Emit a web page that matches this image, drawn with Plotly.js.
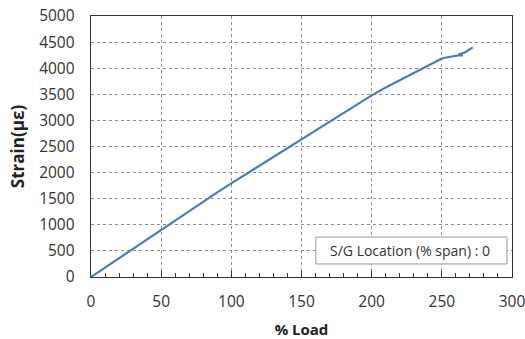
<!DOCTYPE html>
<html>
<head>
<meta charset="utf-8">
<script src="https://cdn.plot.ly/plotly-3.0.1.min.js"></script>
<style>html,body{margin:0;padding:0;background:#fff;}#chart{width:525px;height:339px;}</style>
</head>
<body>
<div id="chart"></div>
<script>
var loadPct = [0,10,20,30,40,50,60,70,80,90,100,110,120,130,140,150,160,170,180,190,200,210,220,230,235,240,245,248,250,253,256,260,263,265,262,264,266,268,270,272];
var strain = [0,180,360,545,730,915,1095,1270,1445,1620,1795,1965,2135,2305,2475,2645,2815,2985,3155,3320,3480,3630,3770,3905,3965,4035,4115,4160,4185,4205,4222,4240,4250,4238,4265,4280,4295,4330,4365,4400];
var xTicks = [0,50,100,150,200,250,300];
var yTicks = [0,500,1000,1500,2000,2500,3000,3500,4000,4500,5000];
var legendText = 'S/G Location (% span) : 0';

var font = 'Open Sans, Liberation Sans, sans-serif';
Plotly.newPlot('chart', [{
  x: loadPct, y: strain, mode: 'lines', type: 'scatter',
  line: {color: '#4a7ebb', width: 2.2}
}], {
  width: 525, height: 339,
  margin: {l: 91, r: 13, t: 16, b: 62},
  paper_bgcolor: '#fff', plot_bgcolor: '#fff',
  showlegend: false,
  xaxis: {
    range: [0, 300], tickvals: xTicks, ticktext: xTicks.map(String),
    showgrid: true, gridcolor: '#8c8c8c', griddash: '3px,3px', gridwidth: 1,
    showline: true, linecolor: '#333', linewidth: 1.3, mirror: true,
    ticks: 'inside', ticklen: 6, tickcolor: '#333',
    minor: {dtick: 10, ticks: 'inside', ticklen: 4, tickcolor: '#333', showgrid: false},
    zeroline: false, ticklabelstandoff: 10, ticklabeloverflow: 'allow',
    tickfont: {family: font, size: 15.5, color: '#333'},
    title: {text: '<b>% Load</b>', font: {family: font, size: 15, color: '#222'}, standoff: 14}
  },
  yaxis: {
    range: [0, 5000], tickvals: yTicks, ticktext: yTicks.map(String),
    showgrid: true, gridcolor: '#8c8c8c', griddash: '3px,3px', gridwidth: 1,
    showline: true, linecolor: '#333', linewidth: 1.3, mirror: true,
    ticks: '', zeroline: false, ticklabelstandoff: 12, ticklabeloverflow: 'allow',
    tickfont: {family: font, size: 15.5, color: '#333'},
    title: {text: '<b>Strain(με)</b>', font: {family: font, size: 17, color: '#222'}, standoff: 10}
  },
  shapes: [{
    type: 'rect', xref: 'paper', yref: 'paper', x0: 0.534, x1: 0.988, y0: 0.05, y1: 0.153,
    line: {color: '#999', width: 1}, fillcolor: '#fff', layer: 'above'
  }],
  annotations: [{
    xref: 'paper', yref: 'paper', x: 0.758, y: 0.1015, xanchor: 'center', yanchor: 'middle',
    text: legendText, showarrow: false,
    font: {family: font, size: 14, color: '#333'}
  }]
}, {displayModeBar: false, staticPlot: true});
</script>
</body>
</html>
